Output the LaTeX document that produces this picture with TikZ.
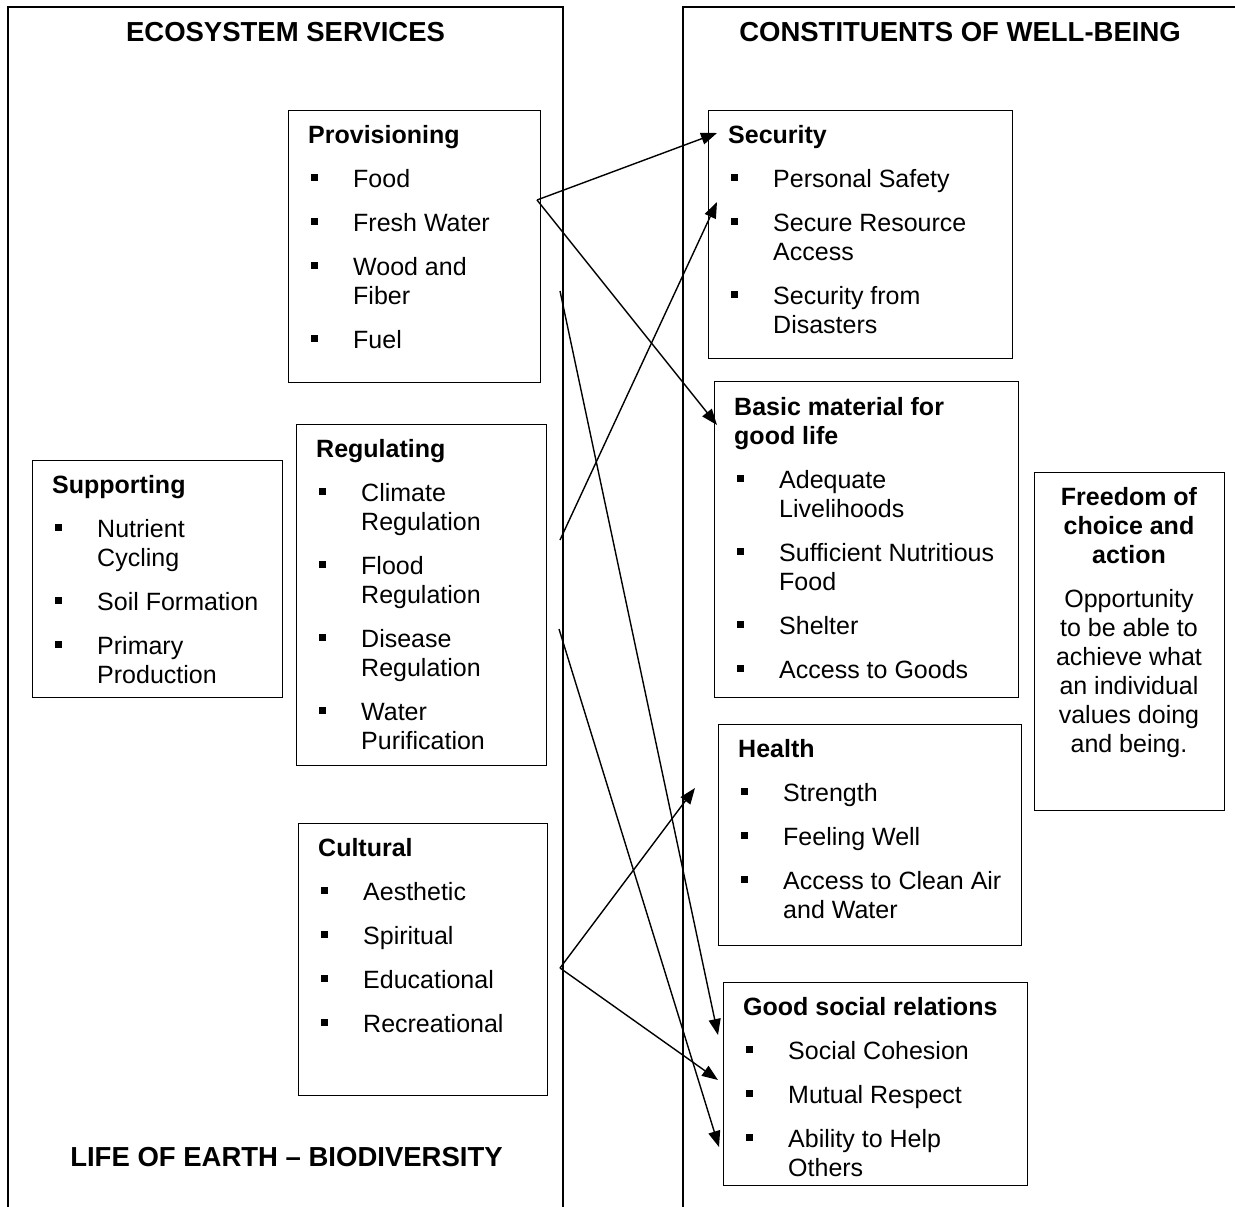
\documentclass[tikz,border=0pt]{standalone}
\usepackage{fontspec}
\setmainfont{Liberation Sans}
\usetikzlibrary{arrows.meta}

% type sizes: body text and the three headings
\newcommand{\bodyfont}{\fontsize{25}{29}\selectfont}
\newcommand{\headfont}{\fontsize{27.5}{32}\selectfont\bfseries}
% square bullet in a fixed-width column
\newcommand{\sqb}{\makebox[45pt][l]{\hspace*{3pt}\rule[6pt]{7pt}{7pt}}}

\tikzset{
  frame/.style={line width=1.5pt, draw=black},
  svcbox/.style={draw=black, line width=1.3pt, anchor=north west, inner sep=0pt},
  txt/.style={anchor=base west, inner sep=0pt, font=\bodyfont},
  ctxt/.style={anchor=base, inner sep=0pt, font=\bodyfont},
  head/.style={anchor=base, inner sep=0pt, font=\headfont},
  conn/.style={line width=1.4pt, -{Triangle[length=16pt,width=12pt]}},
}

\begin{document}
\begin{tikzpicture}[x=1pt, y=-1pt]
\useasboundingbox (0,0) rectangle (1235,1207);

% the two open frames
\draw[frame] (8,1240) -- (8,7) -- (563,7) -- (563,1240);
\draw[frame] (683,1240) -- (683,7) -- (1240,7);

% headings
\node[head] (h-es) at (285.5,42) {ECOSYSTEM SERVICES};
\node[head] (h-wb) at (960,42) {CONSTITUENTS OF WELL-BEING};
\node[head] (h-bio) at (286.5,1166) {LIFE OF EARTH -- BIODIVERSITY};

% ---- ecosystem service boxes ----
\node[svcbox, minimum width=252pt, minimum height=272pt] (prov) at (288,110) {};
\node[txt] (prov-t) at (308,143) {\begin{tabular}[t]{@{}l@{}l@{}}
\multicolumn{2}{@{}l@{}}{\bfseries Provisioning}\\[15pt]
\sqb & Food\\[15pt]
\sqb & Fresh Water\\[15pt]
\sqb & Wood and\\
     & Fiber\\[15pt]
\sqb & Fuel
\end{tabular}};

\node[svcbox, minimum width=250pt, minimum height=341pt] (reg) at (296,424) {};
\node[txt] (reg-t) at (316,457) {\begin{tabular}[t]{@{}l@{}l@{}}
\multicolumn{2}{@{}l@{}}{\bfseries Regulating}\\[15pt]
\sqb & Climate\\
     & Regulation\\[15pt]
\sqb & Flood\\
     & Regulation\\[15pt]
\sqb & Disease\\
     & Regulation\\[15pt]
\sqb & Water\\
     & Purification
\end{tabular}};

\node[svcbox, minimum width=249pt, minimum height=272pt] (cult) at (298,823) {};
\node[txt] (cult-t) at (318,856) {\begin{tabular}[t]{@{}l@{}l@{}}
\multicolumn{2}{@{}l@{}}{\bfseries Cultural}\\[15pt]
\sqb & Aesthetic\\[15pt]
\sqb & Spiritual\\[15pt]
\sqb & Educational\\[15pt]
\sqb & Recreational
\end{tabular}};

\node[svcbox, minimum width=250pt, minimum height=237pt] (sup) at (32,460) {};
\node[txt] (sup-t) at (52,493) {\begin{tabular}[t]{@{}l@{}l@{}}
\multicolumn{2}{@{}l@{}}{\bfseries Supporting}\\[15pt]
\sqb & Nutrient\\
     & Cycling\\[15pt]
\sqb & Soil Formation\\[15pt]
\sqb & Primary\\
     & Production
\end{tabular}};

% ---- well-being boxes ----
\node[svcbox, minimum width=304pt, minimum height=248pt] (sec) at (708,110) {};
\node[txt] (sec-t) at (728,143) {\begin{tabular}[t]{@{}l@{}l@{}}
\multicolumn{2}{@{}l@{}}{\bfseries Security}\\[15pt]
\sqb & Personal Safety\\[15pt]
\sqb & Secure Resource\\
     & Access\\[15pt]
\sqb & Security from\\
     & Disasters
\end{tabular}};

\node[svcbox, minimum width=304pt, minimum height=316pt] (basic) at (714,381) {};
\node[txt] (basic-t) at (734,415) {\begin{tabular}[t]{@{}l@{}l@{}}
\multicolumn{2}{@{}l@{}}{\bfseries Basic material for}\\
\multicolumn{2}{@{}l@{}}{\bfseries good life}\\[15pt]
\sqb & Adequate\\
     & Livelihoods\\[15pt]
\sqb & Sufficient Nutritious\\
     & Food\\[15pt]
\sqb & Shelter\\[15pt]
\sqb & Access to Goods
\end{tabular}};

\node[svcbox, minimum width=303pt, minimum height=221pt] (health) at (718,724) {};
\node[txt] (health-t) at (738,757) {\begin{tabular}[t]{@{}l@{}l@{}}
\multicolumn{2}{@{}l@{}}{\bfseries Health}\\[15pt]
\sqb & Strength\\[15pt]
\sqb & Feeling Well\\[15pt]
\sqb & Access to Clean Air\\
     & and Water
\end{tabular}};

\node[svcbox, minimum width=304pt, minimum height=203pt] (good) at (723,982) {};
\node[txt] (good-t) at (743,1015) {\begin{tabular}[t]{@{}l@{}l@{}}
\multicolumn{2}{@{}l@{}}{\bfseries Good social relations}\\[15pt]
\sqb & Social Cohesion\\[15pt]
\sqb & Mutual Respect\\[15pt]
\sqb & Ability to Help\\
     & Others
\end{tabular}};

\node[svcbox, minimum width=190pt, minimum height=338pt] (free) at (1034,472) {};
\node[ctxt] (free-t) at (1129,505) {\begin{tabular}[t]{@{}c@{}}
\bfseries Freedom of\\
\bfseries choice and\\
\bfseries action\\[15pt]
Opportunity\\
to be able to\\
achieve what\\
an individual\\
values doing\\
and being.
\end{tabular}};

% ---- connector end points ----
\coordinate (prov-out)  at (537,200);
\coordinate (prov-out2) at (560,291);
\coordinate (reg-out1)  at (560,540);
\coordinate (reg-out2)  at (559,629);
\coordinate (cult-out)  at (560,968);
\coordinate (sec-in1)   at (717,133);
\coordinate (sec-in2)   at (717,202);
\coordinate (basic-in)  at (717,425);
\coordinate (health-in) at (695,788);
\coordinate (good-in1)  at (718,1035);
\coordinate (good-in2)  at (718,1080);
\coordinate (good-in3)  at (719,1147);

% ---- links between services and well-being ----
\draw[conn] (prov-out)  -- (sec-in1);
\draw[conn] (prov-out)  -- (basic-in);
\draw[conn] (prov-out2) -- (good-in1);
\draw[conn] (reg-out1)  -- (sec-in2);
\draw[conn] (reg-out2)  -- (good-in3);
\draw[conn] (cult-out)  -- (health-in);
\draw[conn] (cult-out)  -- (good-in2);
\end{tikzpicture}
\end{document}
